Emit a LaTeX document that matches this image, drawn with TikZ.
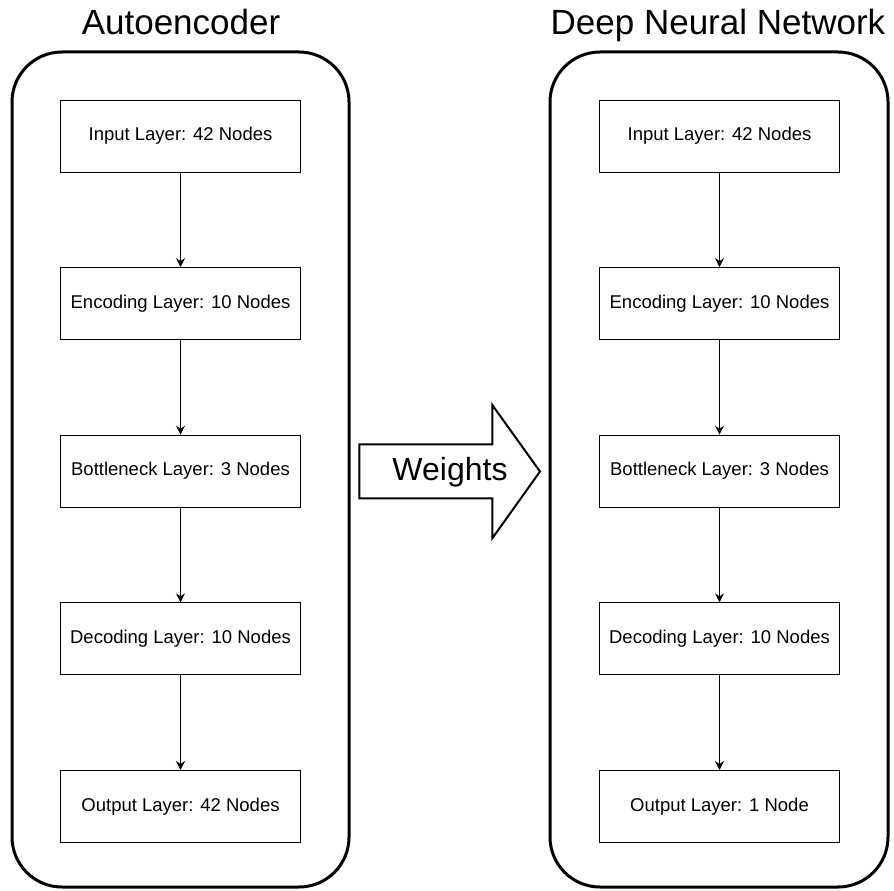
\documentclass[tikz,border=0pt]{standalone}
\usepackage{fontspec}
\setmainfont{Liberation Sans}
\usetikzlibrary{arrows.meta,shapes.arrows}
\begin{document}
\begin{tikzpicture}[x=1pt,y=-1pt,
  container/.style={draw, line width=3pt, rounded corners=50pt},
  layer/.style={draw, line width=1pt, minimum width=240pt, minimum height=72pt, inner sep=0pt, font=\fontsize{18.5}{22}\selectfont},
  title/.style={font=\fontsize{35}{40}\selectfont, inner sep=0pt},
  flow/.style={-{Stealth[length=9pt,width=9pt,inset=3pt]}, line width=1pt}
]
\useasboundingbox (0,0) rectangle (894,891);
% containers
\draw[container] (12,52) rectangle (349,887);
\draw[container] (550,52) rectangle (888,887);
% titles
\node[title, anchor=base] (t1) at (181,35) {Autoencoder};
\node[title, anchor=base] (t2) at (718,35) {Deep Neural Network};
% left column
\node[layer] (a1) at (180.5,136) {Input Layer: 42 Nodes};
\node[layer] (a2) at (180.5,303.6) {Encoding Layer: 10 Nodes};
\node[layer] (a3) at (180.5,471.2) {Bottleneck Layer: 3 Nodes};
\node[layer] (a4) at (180.5,638.9) {Decoding Layer: 10 Nodes};
\node[layer] (a5) at (180.5,806.5) {Output Layer: 42 Nodes};
% right column
\node[layer] (b1) at (719.5,136) {Input Layer: 42 Nodes};
\node[layer] (b2) at (719.5,303.6) {Encoding Layer: 10 Nodes};
\node[layer] (b3) at (719.5,471.2) {Bottleneck Layer: 3 Nodes};
\node[layer] (b4) at (719.5,638.9) {Decoding Layer: 10 Nodes};
\node[layer] (b5) at (719.5,806.5) {Output Layer: 1 Node};
\foreach \p/\q in {a1/a2,a2/a3,a3/a4,a4/a5,b1/b2,b2/b3,b3/b4,b4/b5}
  \draw[flow] (\p.south) -- (\q.north);
% weights arrow
\draw[line width=2pt, line join=miter] (359.3,444.3) -- (492.3,444.3) -- (492.3,405) -- (540,471.5) -- (492.3,538.3) -- (492.3,498.3) -- (359.3,498.3) -- cycle;
\node[font=\fontsize{32}{36}\selectfont, anchor=base, inner sep=0pt] (w) at (450,480) {Weights};
\end{tikzpicture}
\end{document}
